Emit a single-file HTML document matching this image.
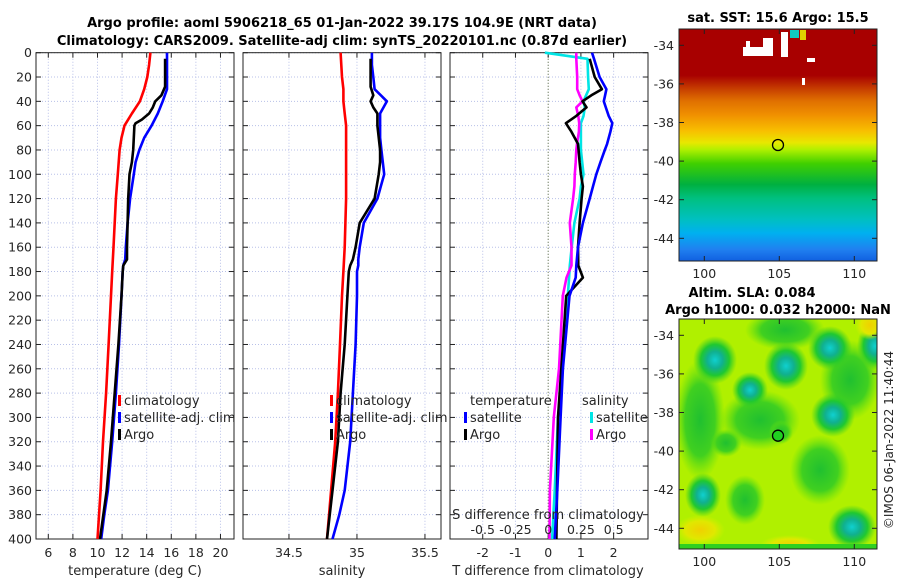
<!DOCTYPE html>
<html><head><meta charset="utf-8"><style>
body{margin:0;background:#fff}
svg{display:block;font-family:"DejaVu Sans","Liberation Sans",sans-serif}
</style></head><body>
<svg id="fig" width="900" height="580" viewBox="0 0 900 580" xmlns="http://www.w3.org/2000/svg">
<defs>
<linearGradient id="sstGrad" x1="0" y1="0" x2="0" y2="1">
<stop offset="0" stop-color="#a80000"/><stop offset="0.2" stop-color="#a80000"/>
<stop offset="0.26" stop-color="#c84000"/><stop offset="0.31" stop-color="#e07000"/>
<stop offset="0.37" stop-color="#f09000"/><stop offset="0.44" stop-color="#f8c000"/>
<stop offset="0.49" stop-color="#e8e800"/><stop offset="0.52" stop-color="#b0f000"/>
<stop offset="0.58" stop-color="#40d000"/><stop offset="0.67" stop-color="#00b040"/>
<stop offset="0.73" stop-color="#00c080"/><stop offset="0.82" stop-color="#00c0c0"/>
<stop offset="0.88" stop-color="#00b0f0"/><stop offset="0.95" stop-color="#2080f0"/>
<stop offset="1" stop-color="#1060e0"/>
</linearGradient>
<radialGradient id="tealBlob"><stop offset="0" stop-color="#10d0d0"/><stop offset="0.35" stop-color="#10b090"/><stop offset="0.65" stop-color="#20c830"/><stop offset="1" stop-color="#40d020" stop-opacity="0"/></radialGradient>
<radialGradient id="greenBlob"><stop offset="0" stop-color="#20c030"/><stop offset="0.6" stop-color="#40d020"/><stop offset="1" stop-color="#60e010" stop-opacity="0"/></radialGradient>
<radialGradient id="yellowBlob"><stop offset="0" stop-color="#f0d000"/><stop offset="0.6" stop-color="#e0e800"/><stop offset="1" stop-color="#d0f000" stop-opacity="0"/></radialGradient>
<clipPath id="clipMap2"><rect x="679" y="319" width="198" height="230"/></clipPath>
</defs>
<g id="titles">
<text x="342" y="27" text-anchor="middle" font-size="13" font-weight="bold">Argo profile: aoml 5906218_65 01-Jan-2022 39.17S 104.9E (NRT data)</text>
<text x="342" y="45" text-anchor="middle" font-size="13" font-weight="bold">Climatology: CARS2009. Satellite-adj clim: synTS_20220101.nc (0.87d earlier)</text>
</g>
<g id="panels"></g>
<g id="maps">
<text x="778" y="22" text-anchor="middle" font-size="13" font-weight="bold">sat. SST: 15.6 Argo: 15.5</text>
<rect x="679" y="29" width="198" height="232" fill="url(#sstGrad)"/>
<g fill="#fff">
<rect x="743" y="47" width="30" height="9"/><rect x="763" y="38" width="10" height="12"/><rect x="781" y="32" width="7" height="25"/><rect x="746" y="41" width="4" height="8"/><rect x="807" y="58" width="8" height="4"/><rect x="802" y="78" width="3" height="7"/>
</g>
<rect x="790" y="30" width="9" height="8" fill="#10c8c0"/>
<rect x="800" y="30" width="6" height="10" fill="#e0d000"/>
<rect x="679" y="29" width="198" height="232" fill="none" stroke="#222" stroke-width="1"/>
<circle cx="778" cy="145" r="5.5" fill="none" stroke="#000" stroke-width="1.3"/>

<text x="752" y="297" text-anchor="middle" font-size="13" font-weight="bold">Altim. SLA: 0.084</text>
<text x="778" y="314" text-anchor="middle" font-size="13" font-weight="bold">Argo h1000: 0.032 h2000: NaN</text>
<g clip-path="url(#clipMap2)">
<rect x="679" y="319" width="198" height="230" fill="#b0f000"/>
<ellipse cx="760" cy="420" rx="40" ry="30" fill="url(#greenBlob)"/>
<ellipse cx="700" cy="420" rx="25" ry="60" fill="url(#greenBlob)"/>
<ellipse cx="820" cy="470" rx="30" ry="35" fill="url(#greenBlob)"/>
<ellipse cx="785" cy="330" rx="40" ry="20" fill="url(#greenBlob)"/>
<ellipse cx="850" cy="380" rx="30" ry="40" fill="url(#greenBlob)"/>
<ellipse cx="745" cy="500" rx="20" ry="25" fill="url(#greenBlob)"/>
<ellipse cx="715" cy="360" rx="22" ry="24" fill="url(#tealBlob)"/>
<ellipse cx="786" cy="366" rx="22" ry="24" fill="url(#tealBlob)"/>
<ellipse cx="830" cy="348" rx="22" ry="22" fill="url(#tealBlob)"/>
<ellipse cx="875" cy="346" rx="18" ry="24" fill="url(#tealBlob)"/>
<ellipse cx="750" cy="390" rx="18" ry="18" fill="url(#tealBlob)"/>
<ellipse cx="833" cy="415" rx="22" ry="22" fill="url(#tealBlob)"/>
<ellipse cx="726" cy="443" rx="16" ry="14" fill="url(#greenBlob)"/>
<ellipse cx="703" cy="495" rx="18" ry="22" fill="url(#tealBlob)"/>
<ellipse cx="852" cy="527" rx="24" ry="22" fill="url(#tealBlob)"/>
<ellipse cx="781" cy="432" rx="12" ry="12" fill="url(#greenBlob)"/>
<ellipse cx="700" cy="530" rx="25" ry="15" fill="url(#yellowBlob)"/>
<ellipse cx="870" cy="325" rx="15" ry="15" fill="url(#yellowBlob)"/>
<ellipse cx="790" cy="545" rx="30" ry="10" fill="url(#yellowBlob)"/>
<rect x="679" y="544" width="198" height="5" fill="#30d020"/>
</g>
<rect x="679" y="319" width="198" height="230" fill="none" stroke="#222" stroke-width="1"/>
<circle cx="778" cy="435.7" r="5.5" fill="#20d020" stroke="#000" stroke-width="1.3"/>
<text transform="translate(893,440) rotate(-90)" text-anchor="middle" font-size="12" fill="#262626">©IMOS 06-Jan-2022 11:40:44</text>
</g>
</svg>
<script>
// ---------- data ----------
const depthRed = [0,10,20,30,40,50,60,70,80,100,120,140,160,180,200,240,280,320,360,400];
const tempClim = [14.3,14.2,14.05,13.8,13.45,12.8,12.2,11.95,11.8,11.65,11.5,11.4,11.3,11.2,11.1,10.9,10.7,10.45,10.25,10.0];
const depthBlue = [0,10,20,30,40,50,60,70,80,90,100,120,140,160,170,175,180,200,240,280,320,360,380,400];
const tempSat = [15.65,15.65,15.65,15.65,15.3,14.9,14.4,13.8,13.4,13.1,12.95,12.65,12.45,12.3,12.25,12.1,12.05,11.95,11.75,11.5,11.2,10.85,10.55,10.3];
const depthArgo = [5,15,28,35,40,45,50,55,58,60,80,90,100,120,140,160,170,175,180,200,240,280,320,360,400];
const tempArgo = [15.5,15.5,15.5,15.2,14.7,14.5,14.2,13.6,13.1,13.0,12.9,12.8,12.6,12.5,12.45,12.4,12.4,12.1,12.05,11.95,11.7,11.4,11.1,10.75,10.2];

const salClim = [34.88,34.885,34.89,34.9,34.9,34.91,34.92,34.92,34.92,34.92,34.92,34.915,34.91,34.9,34.89,34.875,34.86,34.84,34.81,34.78];
const salSat = [35.11,35.11,35.12,35.13,35.22,35.17,35.17,35.17,35.18,35.19,35.2,35.15,35.05,35.02,35.01,35.01,35.0,35.0,34.99,34.97,34.95,34.91,34.87,34.82];
const salArgo = [35.1,35.1,35.1,35.12,35.1,35.12,35.15,35.15,35.15,35.15,35.17,35.17,35.16,35.13,35.02,34.99,34.97,34.95,34.94,34.93,34.91,34.88,34.86,34.82,34.78];

const depthDiff = [0,5,20,30,35,40,45,52,58,65,75,80,90,100,110,120,140,160,175,185,200,260,300,360,400];
const tDiffSat = [1.34,1.4,1.57,1.78,1.74,1.7,1.76,1.85,1.96,1.9,1.8,1.73,1.6,1.47,1.37,1.27,1.06,0.91,0.86,0.84,0.65,0.45,0.38,0.28,0.2];
const tDiffArgo = [null,1.27,1.42,1.64,1.32,1.05,1.17,0.86,0.54,0.71,0.91,0.93,0.96,1.0,1.06,1.02,0.96,0.91,0.92,1.06,0.55,0.4,0.3,0.27,0.25];
const sDiffSat = [-0.025,0.3,0.305,0.31,0.29,0.27,0.28,0.27,0.25,0.25,0.25,0.25,0.26,0.27,0.25,0.24,0.2,0.18,0.165,0.16,0.15,0.11,0.075,0.05,0.03];
const sDiffArgo = [0.215,0.215,0.222,0.222,0.24,0.262,0.215,0.23,0.237,0.235,0.22,0.215,0.21,0.203,0.2,0.19,0.165,0.178,0.178,0.14,0.112,0.083,0.043,0.013,0.01];

const depthTicks = [0,20,40,60,80,100,120,140,160,180,200,220,240,260,280,300,320,340,360,380,400];
const tempTicks = [6,8,10,12,14,16,18,20];
const salTicks = [34.5,35,35.5];
const salTickLabels = ["34.5","35","35.5"];
const diffTicks = [-2,-1,0,1,2];
const sDiffTicks = [-0.5,-0.25,0,0.25,0.5];
const sDiffLabels = ["-0.5","-0.25","0","0.25","0.5"];
const latTicks = [-34,-36,-38,-40,-42,-44];
const lonTicks = [100,105,110];

// ---------- layout ----------
const NS = "http://www.w3.org/2000/svg";
const TOP = 52.7, BOT = 539;
const yDepth = d => TOP + (d/400)*(BOT-TOP);
const panels = [
  {x0:36, x1:234, vmin:5, vmax:21.1, name:"temperature"},
  {x0:243, x1:441, vmin:34.162, vmax:35.618, name:"salinity"},
  {x0:450, x1:648, vmin:-3.0, vmax:3.05, name:"difference"}
];
function xf(p){ return v => p.x0 + (v-p.vmin)/(p.vmax-p.vmin)*(p.x1-p.x0); }
const root = document.getElementById('panels');
function mk(tag, attrs, parent){
  const e = document.createElementNS(NS, tag);
  for (const k in attrs) e.setAttribute(k, attrs[k]);
  (parent||root).appendChild(e);
  return e;
}
function txt(x,y,s,size,anchor,parent){
  const t = mk('text',{x:x,y:y,'font-size':size,'text-anchor':anchor||'middle',fill:'#262626'},parent);
  t.textContent = s; return t;
}
function drawLine(p, vals, depths, color, name, scale){
  const X = xf(p); const pts=[];
  vals.forEach((v,i)=>{ if(v!==null) pts.push(X(v*(scale||1)).toFixed(1)+','+yDepth(depths[i]).toFixed(1)); });
  const l = mk('polyline',{points:pts.join(' '),fill:'none',stroke:color,'stroke-width':2.6,'stroke-linejoin':'round'});
  
  
}
function frame(p, xticks, idx){
  const X = xf(p);
  const g = mk('g',{});
  
  
  depthTicks.forEach(d=>{
    mk('line',{x1:p.x0,x2:p.x1,y1:yDepth(d),y2:yDepth(d),stroke:'#b8c0e8','stroke-width':1,'stroke-dasharray':'1,2'},g);
    mk('line',{x1:p.x0,x2:p.x0+5,y1:yDepth(d),y2:yDepth(d),stroke:'#222'},g);
    mk('line',{x1:p.x1-5,x2:p.x1,y1:yDepth(d),y2:yDepth(d),stroke:'#222'},g);
    if(idx===0){ const t=txt(p.x0-4,yDepth(d)+4.5,String(d),12.5,'end',g);
        }
  });
  xticks.forEach(v=>{
    const x=X(v);
    mk('line',{x1:x,x2:x,y1:TOP,y2:BOT,stroke:(idx===2&&v===0)?'#445533':'#b8c0e8','stroke-width':1,'stroke-dasharray':'1,2'},g);
    mk('line',{x1:x,x2:x,y1:BOT-5,y2:BOT,stroke:'#222'},g);
    mk('line',{x1:x,x2:x,y1:TOP,y2:TOP+5,stroke:'#222'},g);
  });
  mk('rect',{x:p.x0,y:TOP,width:p.x1-p.x0,height:BOT-TOP,fill:'none',stroke:'#222','stroke-width':1},g);
}
function legendEntry(x,y,color,label,name){
  const g = mk('g',{});
  
  
  if(color) mk('rect',{x:x-2,y:y-10,width:3,height:11,fill:color},g);
  txt(x+4,y,label,13,'start',g);
}

// Panel 1
frame(panels[0], tempTicks, 0);
const X0 = xf(panels[0]);
tempTicks.forEach(v=>{ const t=txt(X0(v),557,String(v),12.5,'middle');
    });
let lab = txt(135,575,'temperature (deg C)',13,'middle');
 
drawLine(panels[0], tempClim, depthRed, '#ff0000', 'temp-climatology-line');
drawLine(panels[0], tempSat, depthBlue, '#0000ff', 'temp-satellite-adj-line');
drawLine(panels[0], tempArgo, depthArgo, '#000000', 'temp-argo-line');
legendEntry(120,405,'#ff0000','climatology','legend-temp-climatology');
legendEntry(120,422,'#0000ff','satellite-adj. clim','legend-temp-satellite-adj');
legendEntry(120,439,'#000000','Argo','legend-temp-argo');

// Panel 2
frame(panels[1], salTicks, 1);
const X1 = xf(panels[1]);
salTicks.forEach((v,i)=>{ const t=txt(X1(v),557,salTickLabels[i],12.5,'middle');
    });
lab = txt(342,575,'salinity',13,'middle');
 
drawLine(panels[1], salClim, depthRed, '#ff0000', 'sal-climatology-line');
drawLine(panels[1], salSat, depthBlue, '#0000ff', 'sal-satellite-adj-line');
drawLine(panels[1], salArgo, depthArgo, '#000000', 'sal-argo-line');
legendEntry(332,405,'#ff0000','climatology','legend-sal-climatology');
legendEntry(332,422,'#0000ff','satellite-adj. clim','legend-sal-satellite-adj');
legendEntry(332,439,'#000000','Argo','legend-sal-argo');

// Panel 3
frame(panels[2], diffTicks, 2);
const X2 = xf(panels[2]);
diffTicks.forEach(v=>{ const t=txt(X2(v),557,String(v),12.5,'middle');
    });
lab = txt(548,575,'T difference from climatology',13,'middle');
 
drawLine(panels[2], sDiffSat, depthDiff, '#00e5e5', 'sal-diff-satellite-line', 4);
drawLine(panels[2], sDiffArgo, depthDiff, '#ff00ff', 'sal-diff-argo-line', 4);
drawLine(panels[2], tDiffArgo, depthDiff, '#000000', 'temp-diff-argo-line');
drawLine(panels[2], tDiffSat, depthDiff, '#0000ff', 'temp-diff-satellite-line');
sDiffTicks.forEach((v,i)=>{ const t=txt(X2(v*4),534,sDiffLabels[i],12.5,'middle');
    });
lab = txt(548,519,'S difference from climatology',13,'middle');
 
legendEntry(466,405,null,'temperature','legend-temperature-header');
legendEntry(466,422,'#0000ff','satellite','legend-tdiff-satellite');
legendEntry(466,439,'#000000','Argo','legend-tdiff-argo');
legendEntry(578,405,null,'salinity','legend-salinity-header');
legendEntry(592,422,'#00e5e5','satellite','legend-sdiff-satellite');
legendEntry(592,439,'#ff00ff','Argo','legend-sdiff-argo');

// Map axes
const maps = document.getElementById('maps');
function mapAxes(top, latY, name){
  const g = mk('g',{},maps);
  
  
  const lonX = lon => 704.3 + (lon-100)*15;
  const bottom = top===29 ? 261 : 549;
  latTicks.forEach(la=>{
    const y = latY(la);
    mk('line',{x1:679,x2:684,y1:y,y2:y,stroke:'#222'},g);
    mk('line',{x1:872,x2:877,y1:y,y2:y,stroke:'#222'},g);
    txt(674,y+4.5,String(la),12.5,'end',g);
  });
  lonTicks.forEach(lo=>{
    const x = lonX(lo);
    mk('line',{x1:x,x2:x,y1:bottom-5,y2:bottom,stroke:'#222'},g);
    mk('line',{x1:x,x2:x,y1:top,y2:top+5,stroke:'#222'},g);
    txt(x,bottom+17,String(lo),12.5,'middle',g);
  });
}
mapAxes(29, la => 45.3 + (-34-la)*19.3, 'sst-map-axes');
mapAxes(319, la => 335.3 + (-34-la)*19.3, 'sla-map-axes');
</script>
</body></html>
